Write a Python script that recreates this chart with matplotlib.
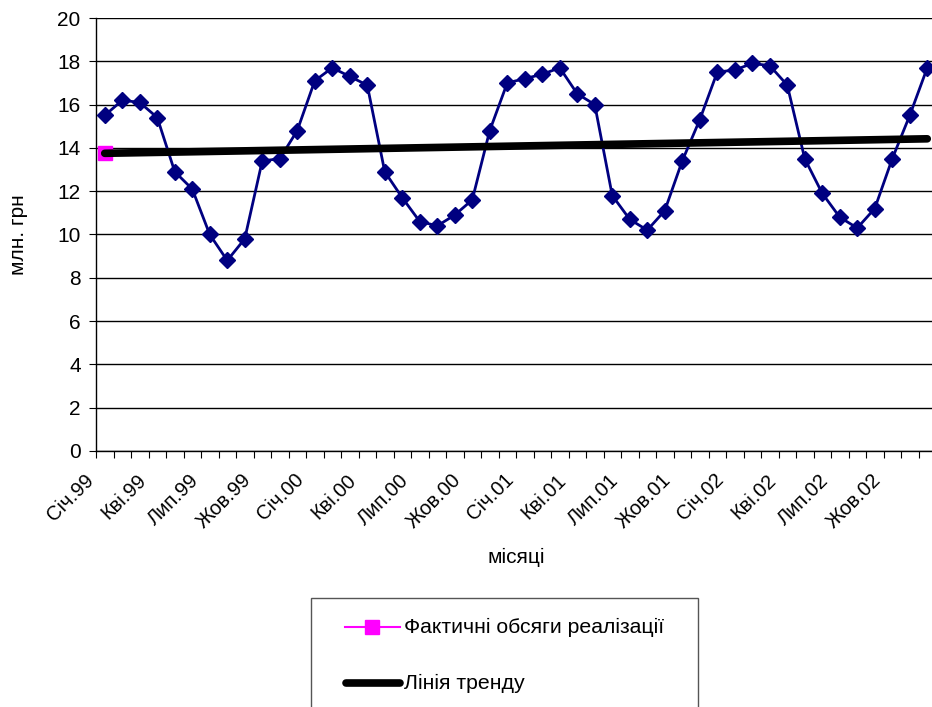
import matplotlib
matplotlib.use("Agg")
import matplotlib.pyplot as plt
import matplotlib.transforms as mtransforms
from matplotlib.lines import Line2D
from matplotlib.patches import Rectangle

plt.rcParams['font.family'] = ['Liberation Sans', 'DejaVu Sans']

# monthly sales, Jan 1999 .. Dec 2002 (mln UAH)
months = ['Січ', 'Лют', 'Бер', 'Кві', 'Тра', 'Чер', 'Лип', 'Сер', 'Вер', 'Жов', 'Лис', 'Гру']
years = ['99', '00', '01', '02']
sales = [15.5, 16.2, 16.1, 15.4, 12.9, 12.1, 10.0, 8.8, 9.8, 13.4, 13.5, 14.8,
         17.1, 17.7, 17.3, 16.9, 12.9, 11.7, 10.6, 10.4, 10.9, 11.6, 14.8, 17.0,
         17.2, 17.4, 17.7, 16.5, 16.0, 11.8, 10.7, 10.2, 11.1, 13.4, 15.3, 17.5,
         17.6, 17.9, 17.8, 16.9, 13.5, 11.9, 10.8, 10.3, 11.2, 13.5, 15.5, 17.7]
trend_ends = [13.75, 14.42]   # trend value at first and last month
actual_point = [13.75]        # single point of the "actual" series

labels = [m + '.' + y for y in years for m in months]
x = list(range(len(sales)))

FS = 15

fig = plt.figure(figsize=(9.32, 7.07), dpi=100)
ax = fig.add_axes([96 / 932, 256 / 707, 840 / 932, 433 / 707])

ax.plot(x, sales, color='#000080', lw=2, marker='D', ms=8, zorder=3)
ax.plot([x[0], x[-1]], trend_ends, color='black', lw=5.5,
        solid_capstyle='round', zorder=4)
ax.plot(x[:1], actual_point, color='magenta', marker='s', ms=10, ls='none',
        zorder=2)

ax.set_xlim(-0.5, len(sales) - 0.5)
ax.set_ylim(0, 20)
ax.set_yticks(range(0, 21, 2))
ax.yaxis.grid(True, color='black', lw=1)
ax.set_axisbelow(True)

# tick marks between months, rotated labels every quarter
ax.set_xticks([i - 0.5 for i in range(len(sales) + 1)])
ax.set_xticklabels([])
ax.tick_params(axis='x', length=5, direction='out')
ax.tick_params(axis='y', length=5, direction='out', labelsize=FS, pad=6)
off = mtransforms.ScaledTranslation(-14 / 100, -26 / 100, fig.dpi_scale_trans)
for i in x[::3]:
    ax.text(i, 0, labels[i], rotation=45, ha='right', va='center',
            rotation_mode='anchor', fontsize=14.5,
            transform=ax.get_xaxis_transform() + off, clip_on=False)

for s in ['top', 'right']:
    ax.spines[s].set_visible(False)
ax.spines['left'].set_linewidth(1)
ax.spines['bottom'].set_linewidth(1)

fig.text(19 / 932, 1 - 235 / 707, 'млн. грн', rotation=90, ha='center',
         va='center', fontsize=FS)
fig.text(516 / 932, 1 - 557 / 707, 'місяці', ha='center', va='center',
         fontsize=FS)

# legend box, open at the bottom edge of the figure
fig.add_artist(Rectangle((311 / 932, -0.05), 387 / 932, 0.05 + 109 / 707,
                         transform=fig.transFigure, fill=False,
                         edgecolor='#555555', lw=1))
y1 = 1 - 627 / 707
y2 = 1 - 683 / 707
fig.add_artist(Line2D([345 / 932, 400 / 932], [y1, y1], color='magenta',
                      lw=1.5, transform=fig.transFigure))
fig.add_artist(Line2D([372 / 932], [y1], color='magenta', marker='s', ms=10,
                      transform=fig.transFigure))
fig.text(404 / 932, y1, 'Фактичні обсяги реалізації', ha='left',
         va='center', fontsize=15.3)
fig.add_artist(Line2D([346 / 932, 400 / 932], [y2, y2], color='black', lw=5.5,
                      solid_capstyle='round', transform=fig.transFigure))
fig.text(404 / 932, y2, 'Лінія тренду', ha='left', va='center', fontsize=15.3)

fig.savefig('out.png', dpi=100)
